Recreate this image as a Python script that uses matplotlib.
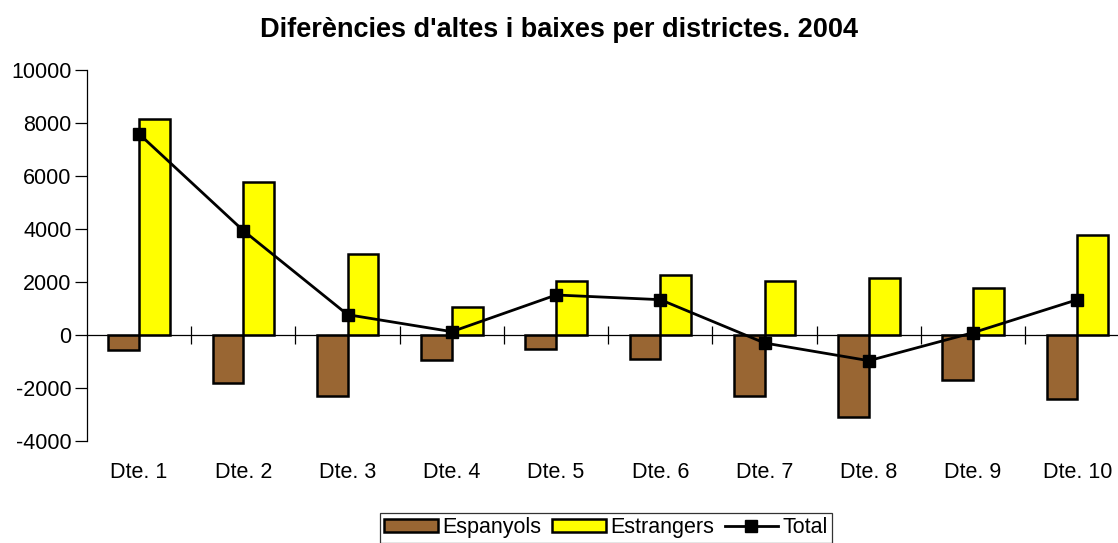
#!/usr/bin/env python3
# Diferencies d'altes i baixes per districtes, 2004
# bars for Espanyols / Estrangers, line for the total

import numpy as np
import matplotlib
matplotlib.use("Agg")
import matplotlib.pyplot as plt
import matplotlib.transforms as mtransforms

plt.rcParams["font.family"] = ["Liberation Sans", "DejaVu Sans"]
plt.rcParams["axes.unicode_minus"] = False

districtes = ["Dte. 1", "Dte. 2", "Dte. 3", "Dte. 4", "Dte. 5",
              "Dte. 6", "Dte. 7", "Dte. 8", "Dte. 9", "Dte. 10"]
espanyols = [-566, -1824, -2290, -931, -528, -906, -2315, -3082, -1698, -2415]
estrangers = [8140, 5760, 3057, 1069, 2025, 2252, 2025, 2139, 1774, 3761]
total = [7585, 3937, 767, 126, 1510, 1333, -302, -969, 88, 1333]

fig = plt.figure(figsize=(11.18, 5.43), dpi=100)
ax = fig.add_axes([87 / 1118, 1 - 441 / 543, 1 - 87 / 1118, 371 / 543])

x = np.arange(len(districtes))
w = 0.295
b1 = ax.bar(x - w / 2, espanyols, w, color="#996633", edgecolor="black",
            linewidth=1.8, label="Espanyols", zorder=2)
b2 = ax.bar(x + w / 2, estrangers, w, color="#FFFF00", edgecolor="black",
            linewidth=1.8, label="Estrangers", zorder=2)
ln, = ax.plot(x, total, color="black", linewidth=2, marker="s", markersize=8,
              label="Total", zorder=3)

ax.set_ylim(-4000, 10000)
ax.set_yticks(range(-4000, 10001, 2000))
ax.set_xlim(-0.5, 9.39)

# x axis sits on the zero line, ticks between districts
for s in ["top", "right"]:
    ax.spines[s].set_visible(False)
ax.spines["bottom"].set_position(("data", 0))
ax.spines["bottom"].set_linewidth(0.9)
ax.spines["left"].set_linewidth(0.9)
ax.set_xticks(np.arange(0.5, 9.0, 1.0))
ax.set_xticklabels([])
ax.tick_params(axis="x", direction="inout", length=13, width=0.9)
ax.tick_params(axis="y", direction="out", length=9, width=0.9,
               labelsize=15.5, pad=2)

trans = mtransforms.blended_transform_factory(ax.transData, ax.transAxes)
for i, lab in enumerate(districtes):
    ax.text(x[i], -31 / 371, lab, transform=trans, ha="center", va="center",
            fontsize=15.5)

fig.text(0.5, 1 - 30 / 543, "Diferències d'altes i baixes per districtes. 2004",
         ha="center", va="center", fontsize=19.5, fontweight="bold")

leg = fig.legend([b1, b2, ln], ["Espanyols", "Estrangers", "Total"],
                 loc="upper center", bbox_to_anchor=(606 / 1118, 1 - 513 / 543),
                 ncol=3, fontsize=15.5, frameon=True, fancybox=False,
                 edgecolor="black", handlelength=2.5, handleheight=0.55,
                 columnspacing=0.5, handletextpad=0.2, borderpad=0.2,
                 borderaxespad=0)
leg.get_frame().set_linewidth(0.9)

fig.savefig("out.png", dpi=100)
